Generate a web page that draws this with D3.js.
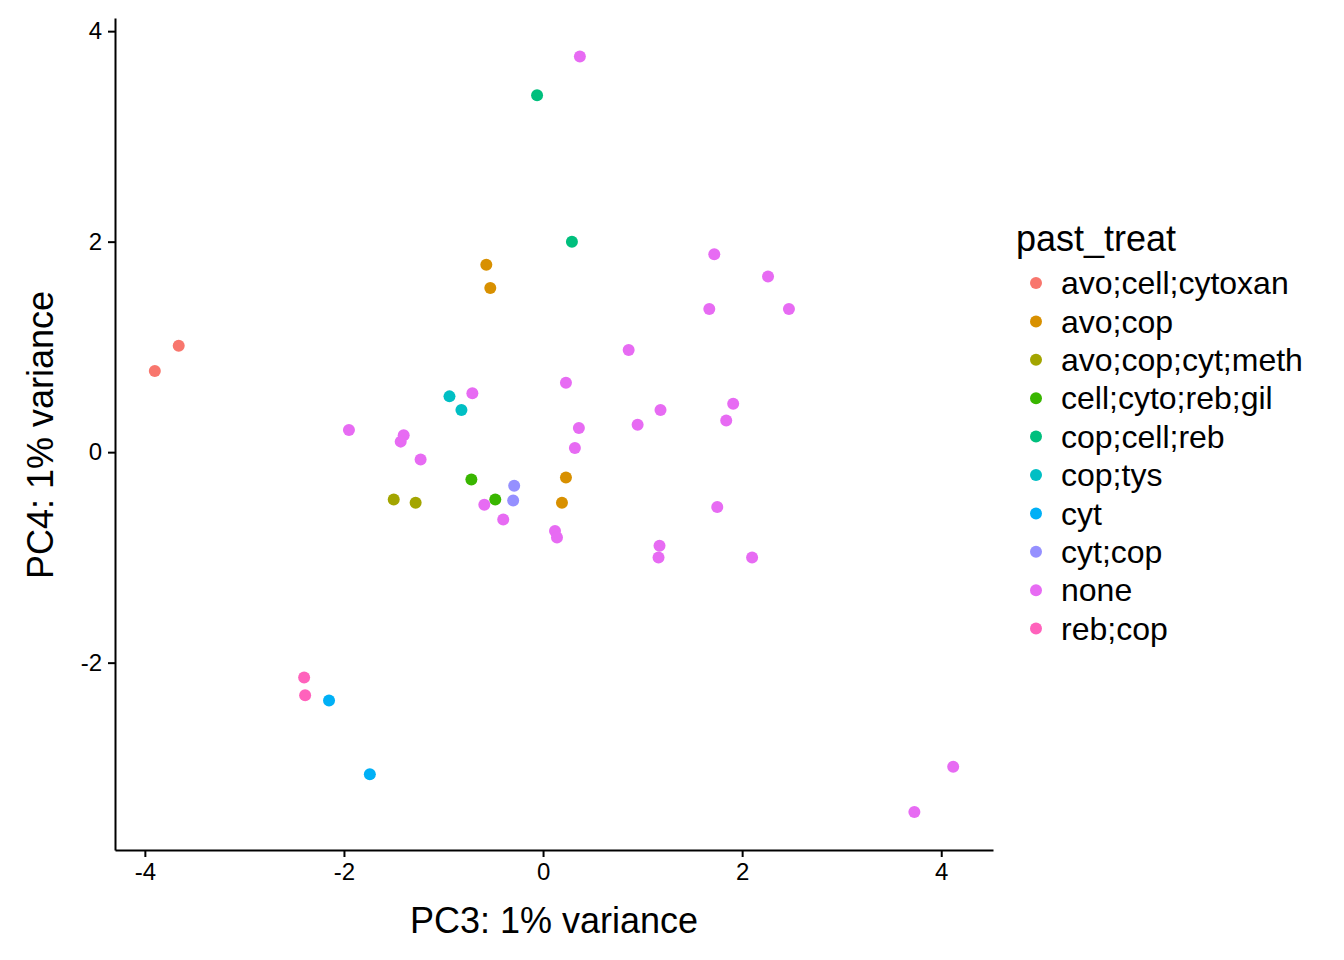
<!DOCTYPE html>
<html><head><meta charset="utf-8">
<script src="https://cdn.jsdelivr.net/npm/d3@7"></script>
<style>body{margin:0;background:#fff;font-family:"Liberation Sans",Arial,sans-serif;} text{font-family:"Liberation Sans",Arial,sans-serif;}</style>
</head><body><div id="chart"></div>
<script>
const groups = ["avo;cell;cytoxan","avo;cop","avo;cop;cyt;meth","cell;cyto;reb;gil","cop;cell;reb","cop;tys","cyt","cyt;cop","none","reb;cop"];
const colors = ["#F8766D","#D89000","#A3A500","#39B600","#00BF7D","#00BFC4","#00B0F6","#9590FF","#E76BF3","#FF62BC"];
const xTicks = [-4,-2,0,2,4];
const yTicks = [-2,0,2,4];
// [group, PC3, PC4]
const points = [
  ["avo;cell;cytoxan",-3.90,0.77],["avo;cell;cytoxan",-3.66,1.01],
  ["avo;cop",-0.57,1.78],["avo;cop",-0.53,1.56],["avo;cop",0.23,-0.24],["avo;cop",0.19,-0.48],
  ["avo;cop;cyt;meth",-1.50,-0.45],["avo;cop;cyt;meth",-1.28,-0.48],
  ["cell;cyto;reb;gil",-0.72,-0.26],["cell;cyto;reb;gil",-0.48,-0.45],
  ["cop;cell;reb",-0.06,3.39],["cop;cell;reb",0.29,2.00],
  ["cop;tys",-0.94,0.53],["cop;tys",-0.82,0.40],
  ["cyt",-2.15,-2.36],["cyt",-1.74,-3.06],
  ["cyt;cop",-0.29,-0.32],["cyt;cop",-0.30,-0.46],
  ["none",0.37,3.76],["none",1.72,1.88],["none",2.26,1.67],["none",1.67,1.36],["none",2.47,1.36],
  ["none",0.86,0.97],["none",0.23,0.66],["none",-0.71,0.56],["none",1.18,0.40],["none",1.91,0.46],
  ["none",-1.95,0.21],["none",-1.40,0.16],["none",-1.43,0.10],["none",0.36,0.23],["none",0.95,0.26],
  ["none",1.84,0.30],["none",0.32,0.04],["none",-1.23,-0.07],["none",-0.59,-0.50],["none",-0.40,-0.64],
  ["none",1.75,-0.52],["none",0.12,-0.75],["none",0.14,-0.81],["none",1.17,-0.89],["none",1.16,-1.00],
  ["none",2.10,-1.00],["none",4.12,-2.99],["none",3.73,-3.42],
  ["reb;cop",-2.40,-2.14],["reb;cop",-2.39,-2.31]
];

const W = 1344, H = 960;
const svg = d3.select("#chart").append("svg").attr("width", W).attr("height", H);
const x = d3.scaleLinear().domain([-4.30,4.52]).range([115,993]);
const y = d3.scaleLinear().domain([-3.78,4.125]).range([850,18]);
const color = d3.scaleOrdinal().domain(groups).range(colors);

const fmt = d => d < 0 ? "-" + Math.abs(d) : String(d);
const ax = svg.append("g").attr("transform","translate(0,850)")
  .call(d3.axisBottom(x).tickValues(xTicks).tickFormat(fmt).tickSize(7).tickSizeOuter(0).tickPadding(6));
const ay = svg.append("g").attr("transform","translate(115,0)")
  .call(d3.axisLeft(y).tickValues(yTicks).tickFormat(fmt).tickSize(7).tickSizeOuter(0).tickPadding(6));
[ax, ay].forEach(a => {
  a.attr("font-size", 24).attr("font-family", "Liberation Sans, Arial");
  a.select(".domain").attr("stroke","#000").attr("stroke-width",2);
  a.selectAll(".tick line").attr("stroke","#000").attr("stroke-width",2);
  a.selectAll("text").attr("fill","#000").attr("font-size", 24);
});

svg.append("g").selectAll("circle").data(points).join("circle")
  .attr("cx", d => x(d[1])).attr("cy", d => y(d[2])).attr("r", 6)
  .attr("fill", d => color(d[0]));

svg.append("text").attr("x",554).attr("y",933).attr("text-anchor","middle")
  .attr("font-size", 36).text("PC3: 1% variance");
svg.append("text").attr("transform","translate(53,435) rotate(-90)").attr("text-anchor","middle")
  .attr("font-size", 36).text("PC4: 1% variance");

svg.append("text").attr("x",1016).attr("y",251).attr("font-size", 36).text("past_treat");
const leg = svg.append("g").selectAll("g").data(groups).join("g")
  .attr("transform",(d,i)=>`translate(0,${283 + i*38.4})`);
leg.append("circle").attr("cx",1036).attr("cy",0).attr("r",6).attr("fill",d=>color(d));
leg.append("text").attr("x",1061).attr("y",0).attr("dy","0.35em").attr("font-size", 32).text(d=>d);
</script></body></html>
